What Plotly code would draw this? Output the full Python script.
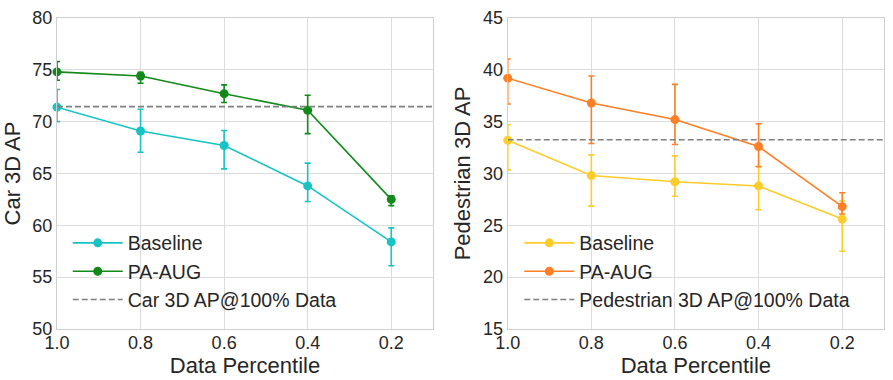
import plotly.graph_objects as go

# data percentile (x axis)
pct = [1.0, 0.8, 0.6, 0.4, 0.2]

# car 3D AP
car_base = [71.4, 69.1, 67.7, 63.8, 58.4]
car_base_hi = [1.7, 2.1, 1.45, 2.2, 1.35]
car_base_lo = [1.4, 2.05, 2.25, 1.5, 2.3]
car_aug = [74.8, 74.4, 72.7, 71.1, 62.5]
car_aug_hi = [1.0, 0.35, 0.85, 1.45, 0.35]
car_aug_lo = [0.8, 0.7, 0.85, 2.25, 0.6]
car_full = 71.45

# pedestrian 3D AP
ped_base = [33.2, 29.8, 29.2, 28.8, 25.6]
ped_base_hi = [1.5, 2.0, 2.5, 1.9, 1.75]
ped_base_lo = [2.85, 2.95, 1.4, 2.3, 3.1]
ped_aug = [39.2, 36.8, 35.2, 32.6, 26.8]
ped_aug_hi = [1.85, 2.6, 3.4, 2.2, 1.35]
ped_aug_lo = [2.5, 3.9, 2.4, 1.95, 0.7]
ped_full = 33.25

FONT = "Liberation Sans, Arial, sans-serif"
TXT = "#262626"


def add_series(fig, y, hi, lo, color, name, xa, ya, leg):
    fig.add_trace(go.Scatter(
        x=pct, y=y, name=name, mode="lines+markers", cliponaxis=False,
        line=dict(color=color, width=1.6),
        marker=dict(color=color, size=9),
        error_y=dict(type="data", array=hi, arrayminus=lo, color=color,
                     thickness=1.6, width=3),
        xaxis=xa, yaxis=ya, legend=leg))


def add_ref(fig, val, name, xa, ya, leg):
    fig.add_trace(go.Scatter(
        x=[1.0, 0.1], y=[val, val], name=name, mode="lines",
        line=dict(color="#808080", width=1.6, dash="6px,3px"),
        xaxis=xa, yaxis=ya, legend=leg))


fig = go.Figure()
add_series(fig, car_base, car_base_hi, car_base_lo, "#17c3c3", "Baseline", "x", "y", "legend")
add_series(fig, car_aug, car_aug_hi, car_aug_lo, "#118a1a", "PA-AUG", "x", "y", "legend")
add_ref(fig, car_full, "Car 3D AP@100% Data", "x", "y", "legend")
add_series(fig, ped_base, ped_base_hi, ped_base_lo, "#ffcc2a", "Baseline", "x2", "y2", "legend2")
add_series(fig, ped_aug, ped_aug_hi, ped_aug_lo, "#ff7f27", "PA-AUG", "x2", "y2", "legend2")
add_ref(fig, ped_full, "Pedestrian 3D AP@100% Data", "x2", "y2", "legend2")

axis_style = dict(showgrid=True, gridcolor="#dcdcdc", gridwidth=1,
                  showline=True, linecolor="#d0d0d0", linewidth=1, mirror=True,
                  zeroline=False, ticks="", automargin=False,
                  tickfont=dict(size=18, color=TXT),
                  title_font=dict(size=22, color=TXT))

xticks = dict(tickvals=pct, ticktext=["1.0", "0.8", "0.6", "0.4", "0.2"],
              range=[1.0, 0.1], title_text="Data Percentile", title_standoff=0,
              ticklabelstandoff=-3)

fig.update_layout(
    width=893, height=380,
    margin=dict(l=57, r=9, t=18, b=51),
    paper_bgcolor="white", plot_bgcolor="white",
    font=dict(family=FONT, color=TXT),
    xaxis=dict(domain=[0, 0.4547], anchor="y", **xticks, **axis_style),
    yaxis=dict(domain=[0, 1], anchor="x", range=[50, 80], dtick=5,
               title_text="Car 3D AP", title_standoff=6, **axis_style),
    xaxis2=dict(domain=[0.545, 1], anchor="y2", **xticks, **axis_style),
    yaxis2=dict(domain=[0, 1], anchor="x2", range=[15, 45], dtick=5,
                title_text="Pedestrian 3D AP", title_standoff=6, **axis_style),
    legend=dict(x=0.013, y=0.03, xanchor="left", yanchor="bottom",
                bgcolor="rgba(0,0,0,0)", font=dict(size=19.5, color=TXT),
                itemwidth=50),
    legend2=dict(x=0.559, y=0.03, xanchor="left", yanchor="bottom",
                 bgcolor="rgba(0,0,0,0)", font=dict(size=19.5, color=TXT),
                 itemwidth=50),
)

# drop the browser's default body margin so the figure sits at the page corner
fig.write_html("out.html", config={"displayModeBar": False},
               post_script="document.body.style.margin='0';")
